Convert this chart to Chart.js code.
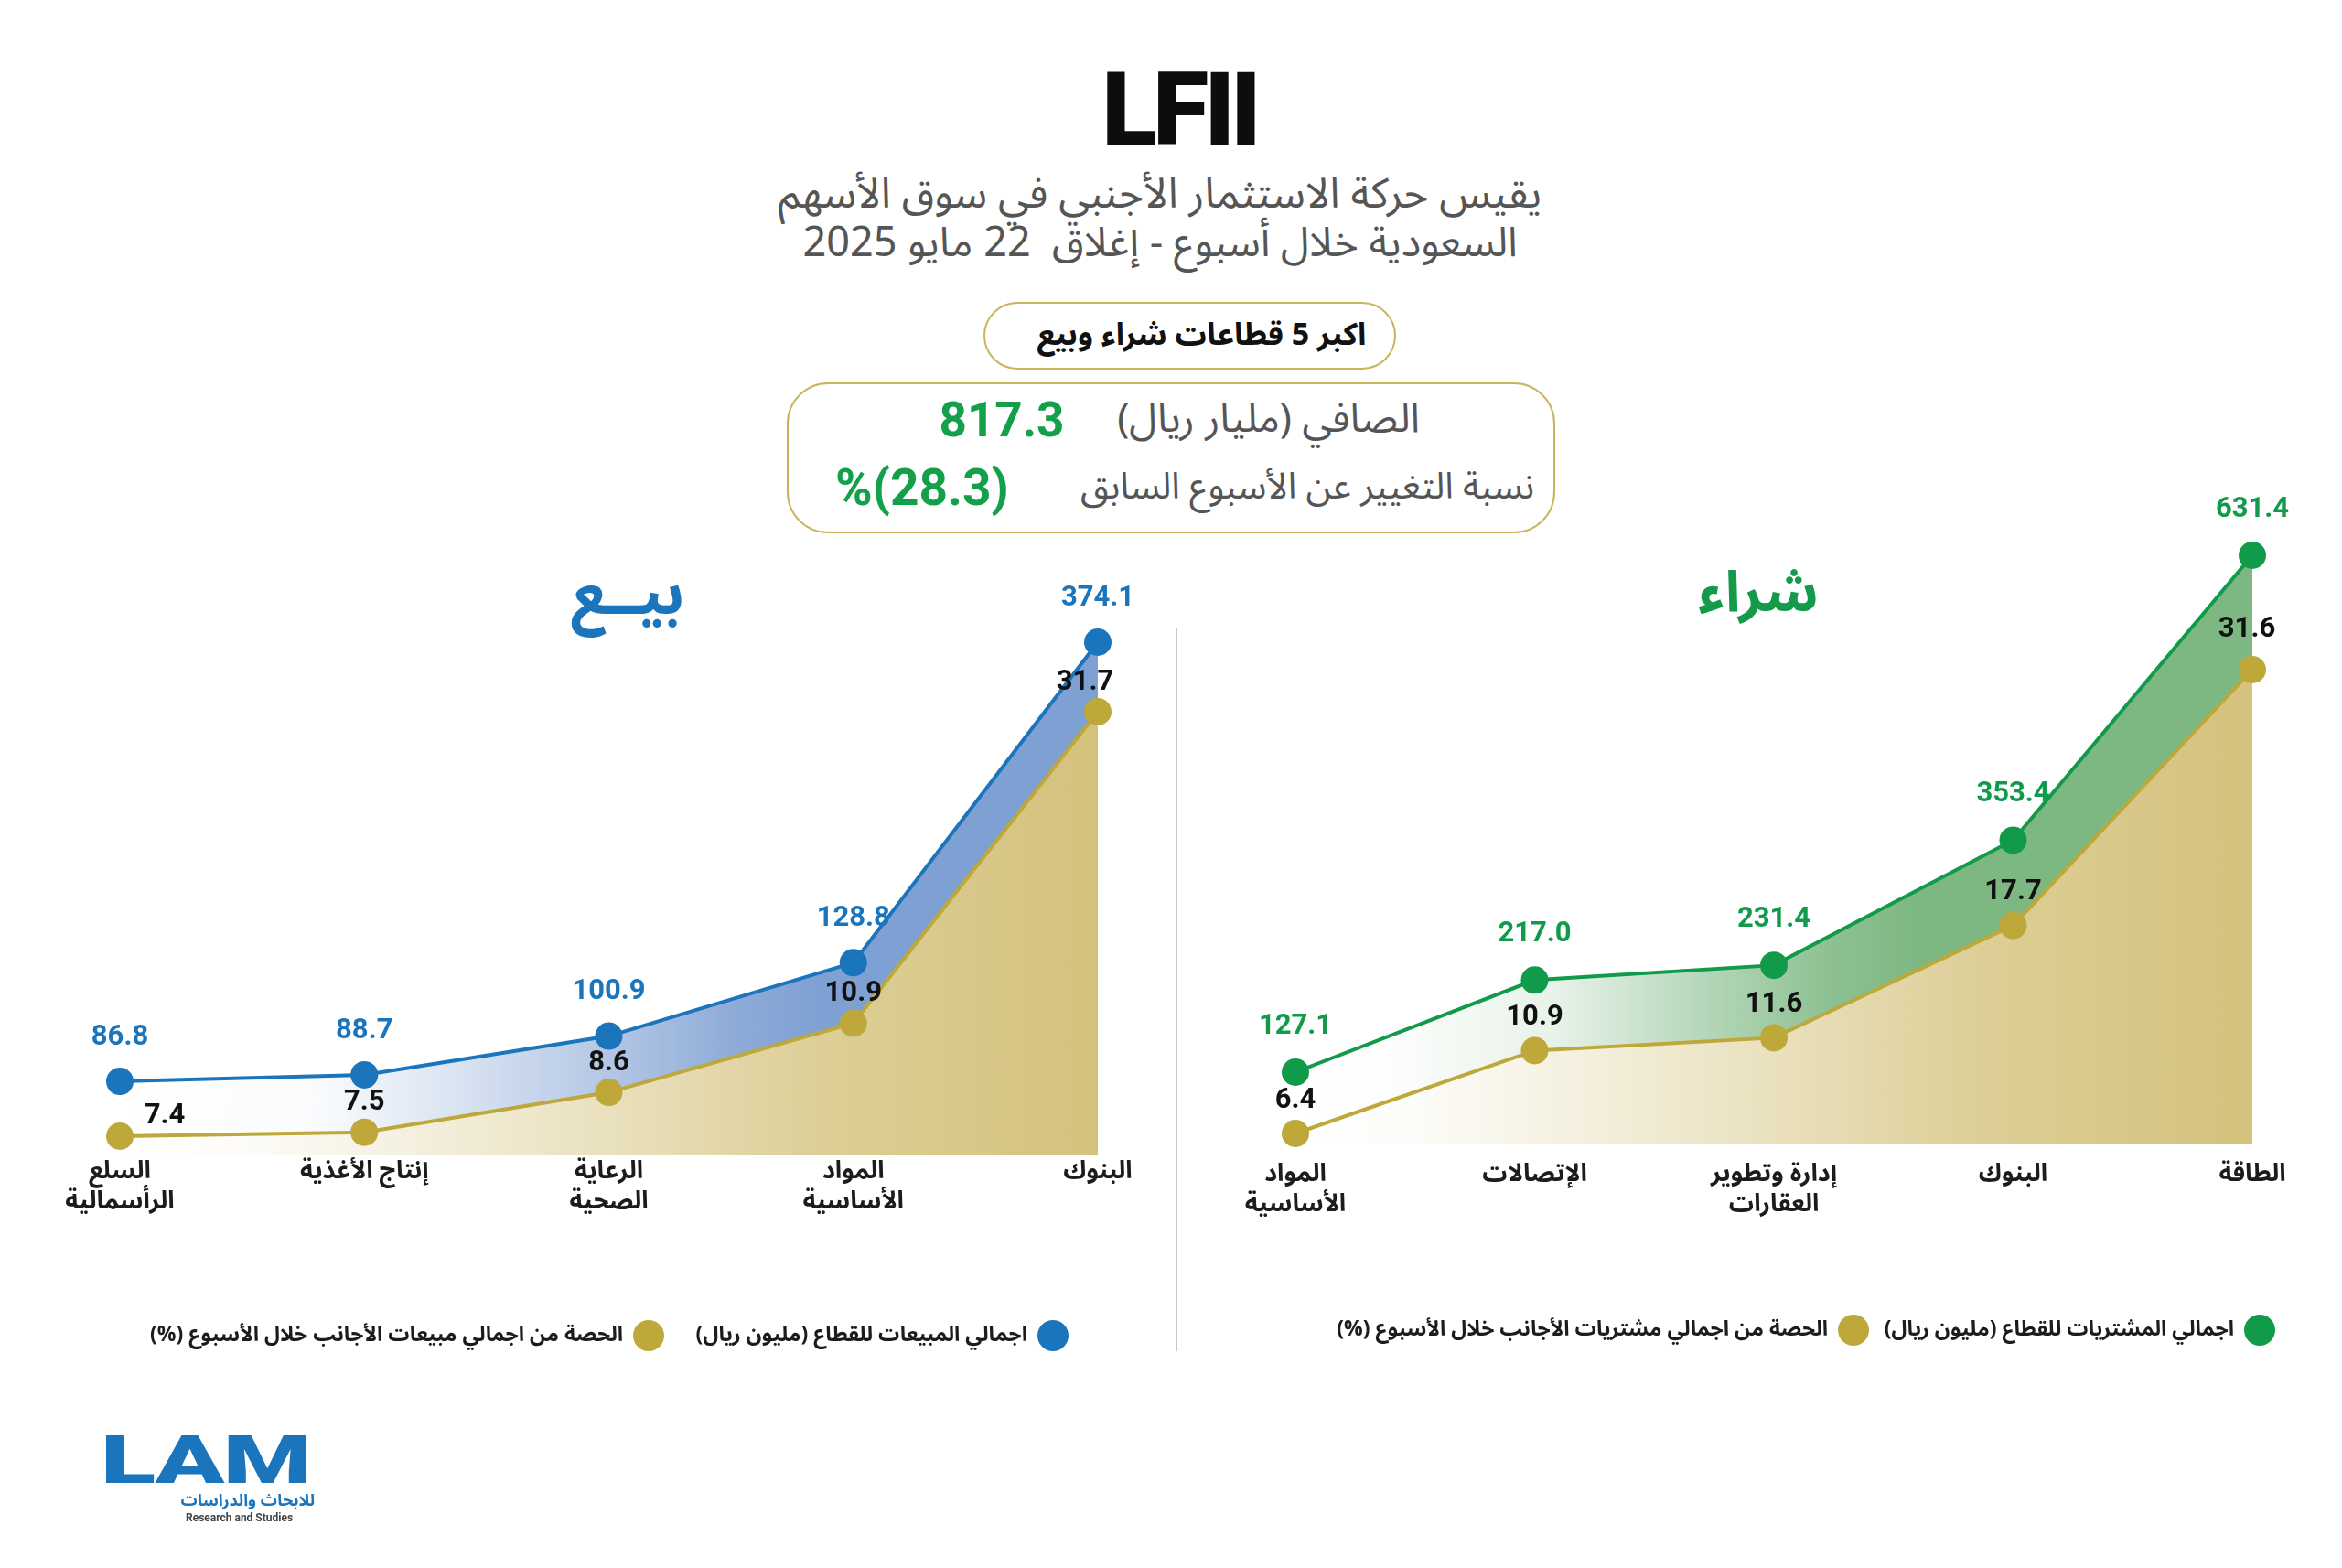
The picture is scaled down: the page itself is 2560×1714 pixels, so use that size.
<!DOCTYPE html>
<html lang="ar">
<head>
<meta charset="utf-8">
<script src="https://cdn.jsdelivr.net/npm/chart.js@4.4.1/dist/chart.umd.min.js"></script>
<style>
html,body{margin:0;padding:0;background:#fff;}
#page{position:relative;width:2560px;height:1714px;overflow:hidden;background:#fff;
  font-family:"Noto Sans Arabic","Noto Sans","DejaVu Sans",sans-serif;}
.abs{position:absolute;white-space:nowrap;}
canvas{position:absolute;top:0;}
.num{font-family:Roboto,Inter,"Noto Sans",sans-serif;font-weight:700;}
.dot{position:absolute;width:34px;height:34px;border-radius:50%;}
.leg{position:absolute;white-space:nowrap;direction:rtl;font-weight:700;font-size:23px;color:#1c1c1c;line-height:36px;height:36px;}
</style>
</head>
<body>
<div id="page">
  <div class="abs" style="left:9px;width:2560px;top:64px;text-align:center;font:900 112px/1 Roboto,Inter,sans-serif;color:#0d0d0d;letter-spacing:-5px;">LFII</div>

  <div class="abs" dir="rtl" style="left:0;width:2536px;top:186px;text-align:center;font-size:46px;line-height:54px;color:#555;">يقيس حركة الاستثمار الأجنبي في سوق الأسهم</div>
  <div class="abs" dir="rtl" style="left:0;width:2536px;top:239px;text-align:center;font-size:45px;line-height:54px;color:#555;">السعودية خلال أسبوع - إغلاق&nbsp; 22 مايو 2025</div>

  <div class="abs" style="left:1075px;top:330px;width:451px;height:74px;box-sizing:border-box;border:2.5px solid #c9b45c;border-radius:40px;"></div>
  <div class="abs" dir="rtl" style="left:1075px;top:330px;width:477px;height:74px;line-height:72px;text-align:center;font-size:34px;font-weight:700;color:#111;">اكبر 5 قطاعات شراء وبيع</div>

  <div class="abs" style="left:860px;top:418px;width:840px;height:165px;box-sizing:border-box;border:2.5px solid #c9b45c;border-radius:45px;"></div>
  <div class="abs" dir="rtl" style="right:1008px;top:428px;line-height:60px;font-size:44px;color:#555;">الصافي (مليار ريال)</div>
  <div class="abs num" style="left:995px;width:200px;top:424px;line-height:70px;text-align:center;font-size:53px;color:#14a04b;">817.3</div>
  <div class="abs" dir="rtl" style="right:883px;top:503px;line-height:60px;font-size:40px;color:#555;">نسبة التغيير عن الأسبوع السابق</div>
  <div class="abs num" style="left:898px;width:220px;top:498px;line-height:70px;text-align:center;font-size:55px;color:#14a04b;">%(28.3)</div>

  <div class="abs" dir="rtl" style="left:536px;width:300px;top:610px;line-height:80px;text-align:center;font-size:66px;font-weight:700;color:#1b75bc;">بيــع</div>
  <div class="abs" dir="rtl" style="left:1772px;width:300px;top:609px;line-height:80px;text-align:center;font-size:62px;font-weight:700;color:#139a4b;">شراء</div>

  <div class="abs" style="left:1285px;top:686px;width:2px;height:791px;background:#c8c8c8;"></div>

  <canvas id="sellChart" width="1290" height="1714" style="left:0;"></canvas>
  <canvas id="buyChart" width="1270" height="1714" style="left:1290px;"></canvas>

  <div id="legends"></div>

  <div class="abs" style="left:110px;top:1560px;font:900 73px/1 Roboto,Inter,sans-serif;color:#1b75bc;transform:scaleX(1.52);transform-origin:0 0;letter-spacing:-1px;">LAM</div>
  <div class="abs" dir="rtl" style="right:2216px;top:1627px;font-size:18px;line-height:26px;font-weight:700;color:#1b75bc;">للابحاث والدراسات</div>
  <div class="abs" style="left:203px;top:1652px;font:700 12px/14px Roboto,sans-serif;color:#444;">Research and Studies</div>
</div>

<script>
// ---------- data ----------
const sellCategories = [['السلع','الرأسمالية'], 'إنتاج الأغذية', ['الرعاية','الصحية'], ['المواد','الأساسية'], 'البنوك'];
const sellTotals = [86.8, 88.7, 100.9, 128.8, 374.1];
const sellShares = [7.4, 7.5, 8.6, 10.9, 31.7];
const sellSeriesNames = ['اجمالي المبيعات للقطاع (مليون ريال)', 'الحصة من اجمالي مبيعات الأجانب خلال الأسبوع (%)'];

const buyCategories = [['المواد','الأساسية'], 'الإتصالات', ['إدارة وتطوير','العقارات'], 'البنوك', 'الطاقة'];
const buyTotals = [127.1, 217.0, 231.4, 353.4, 631.4];
const buyShares = [6.4, 10.9, 11.6, 17.7, 31.6];
const buySeriesNames = ['اجمالي المشتريات للقطاع (مليون ريال)', 'الحصة من اجمالي مشتريات الأجانب خلال الأسبوع (%)'];

// ---------- styles ----------
const BLUE = '#1b75bc', GREEN = '#119a4a', GOLD = '#bea83a';
const ARABIC = '"Noto Sans Arabic","Noto Sans","DejaVu Sans",sans-serif';
const NUMFONT = 'Roboto, Inter, sans-serif';

function hGrad(rgb, stops) {
  return (c) => {
    const ch = c.chart, a = ch.chartArea;
    if (!a) return 'rgba(0,0,0,0)';
    const g = ch.ctx.createLinearGradient(a.left, 0, a.right, 0);
    stops.forEach(([o, al]) => g.addColorStop(o, `rgba(${rgb},${al})`));
    return g;
  };
}
const blueStops = [[0,0],[0.2,0.04],[0.35,0.3],[0.48,0.55],[0.63,0.88],[0.72,1],[1,1]];
const greenStops = [[0,0],[0.1,0.02],[0.27,0.18],[0.37,0.42],[0.45,0.62],[0.56,0.88],[0.65,1],[1,1]];
const goldStops = [[0,0],[0.12,0.05],[0.3,0.25],[0.5,0.5],[0.72,0.8],[1,1]];

function labelPlugin(mainColor, mainDy, goldOffset) {
  return {
    id: 'valueLabels',
    afterDatasetsDraw(chart) {
      const ctx = chart.ctx;
      chart.data.datasets.forEach((ds, i) => {
        const meta = chart.getDatasetMeta(i);
        ctx.save();
        ctx.font = `700 31px ${NUMFONT}`;
        ctx.textAlign = 'center';
        ctx.textBaseline = 'middle';
        ctx.fillStyle = i === 0 ? mainColor : '#111';
        meta.data.forEach((pt, j) => {
          const off = i === 0 ? {dx: 0, dy: mainDy} : goldOffset(j, meta.data.length);
          ctx.fillText(Number(ds.data[j]).toFixed(1), pt.x + off.dx, pt.y + off.dy);
        });
        ctx.restore();
      });
    }
  };
}

function makeChart(id, cats, totals, shares, names, cfg) {
  return new Chart(document.getElementById(id), {
    type: 'line',
    data: {
      labels: cats,
      datasets: [
        { label: names[0], data: totals, yAxisID: 'y', borderColor: cfg.main, borderWidth: 4,
          pointRadius: 15, pointHoverRadius: 15, pointBackgroundColor: cfg.main, pointBorderWidth: 0,
          fill: { target: '+1' }, backgroundColor: hGrad(cfg.bandRgb, cfg.bandStops), clip: false, tension: 0 },
        { label: names[1], data: shares, yAxisID: 'y2', borderColor: GOLD, borderWidth: 4,
          pointRadius: 15, pointHoverRadius: 15, pointBackgroundColor: GOLD, pointBorderWidth: 0,
          fill: 'start', backgroundColor: hGrad('212,194,124', goldStops), clip: false, tension: 0 }
      ]
    },
    options: {
      responsive: false, animation: false, events: [],
      layout: { padding: cfg.padding },
      plugins: { legend: { display: false }, tooltip: { enabled: false },
                 filler: { propagate: false, drawTime: 'beforeDatasetsDraw' } },
      scales: {
        x: { type: 'category', offset: false,
             grid: { display: false, drawTicks: false }, border: { display: false },
             ticks: { autoSkip: false, maxRotation: 0, minRotation: 0, padding: cfg.tickPad, color: '#1c1c1c',
                      font: { family: ARABIC, size: 27, weight: 'bold', lineHeight: 1.2 } },
             afterFit: (s) => { s.height = 90; } },
        y: { type: cfg.yType, display: false, min: cfg.yMin, max: cfg.yMax, bounds: 'data' },
        y2: { type: cfg.yType, display: false, min: cfg.y2Min, max: cfg.y2Max, bounds: 'data' }
      }
    },
    plugins: [labelPlugin(cfg.main, cfg.mainDy, cfg.goldOffset)]
  });
}

makeChart('sellChart', sellCategories, sellTotals, sellShares, sellSeriesNames, {
  main: BLUE, bandRgb: '126,160,210', bandStops: blueStops,
  padding: { left: 131, right: 90, top: 600, bottom: 362 }, tickPad: 6,
  yType: 'logarithmic', yMin: 68.05, yMax: 510.3, y2Min: 6.95, y2Max: 55.39,
  mainDy: -48,
  goldOffset: (j, n) => j === 0 ? { dx: 49, dy: -22 } : (j === n - 1 ? { dx: -14, dy: -32 } : { dx: 0, dy: -32 })
});

makeChart('buyChart', buyCategories, buyTotals, buyShares, buySeriesNames, {
  main: GREEN, bandRgb: '125,184,131', bandStops: greenStops,
  padding: { left: 126, right: 98, top: 560, bottom: 374 }, tickPad: 21,
  yType: 'linear', yMin: 57.48, yMax: 673.35, y2Min: 5.853, y2Max: 40.149,
  mainDy: -50,
  goldOffset: (j, n) => j === n - 1 ? { dx: -6, dy: -44 } : { dx: 0, dy: -36 }
});

// ---------- HTML legends ----------
const legendSpecs = [
  { name: buySeriesNames[0], color: GREEN, dotX: 2470, y: 1454 },
  { name: buySeriesNames[1], color: GOLD, dotX: 2026, y: 1454 },
  { name: sellSeriesNames[0], color: BLUE, dotX: 1151, y: 1460 },
  { name: sellSeriesNames[1], color: GOLD, dotX: 709, y: 1460 }
];
const lg = document.getElementById('legends');
legendSpecs.forEach(s => {
  const d = document.createElement('div');
  d.className = 'dot';
  d.style.left = (s.dotX - 17) + 'px'; d.style.top = (s.y - 17) + 'px'; d.style.background = s.color;
  lg.appendChild(d);
  const t = document.createElement('div');
  t.className = 'leg';
  t.textContent = s.name;
  t.style.right = (2560 - (s.dotX - 28)) + 'px'; t.style.top = (s.y - 19) + 'px';
  lg.appendChild(t);
});
</script>
</body>
</html>
